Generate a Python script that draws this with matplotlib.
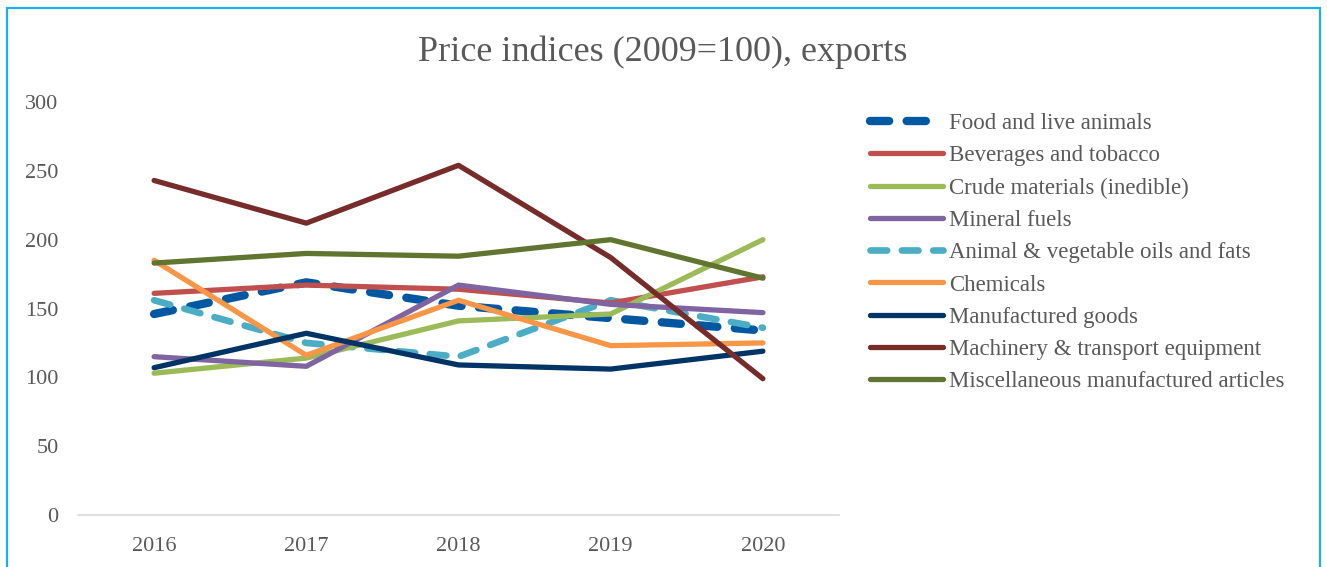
import matplotlib
matplotlib.use("Agg")
import matplotlib.pyplot as plt
from matplotlib.patches import Rectangle

years = ["2016", "2017", "2018", "2019", "2020"]
food = [146, 169, 152, 143, 134]
beverages = [161, 167, 164, 154, 173]
crude = [103, 114, 141, 146, 200]
mineral = [115, 108, 167, 153, 147]
oils = [156, 125, 115, 156, 136]
chemicals = [185, 116, 156, 123, 125]
manufactured = [107, 132, 109, 106, 119]
machinery = [243, 212, 254, 187, 99]
misc = [183, 190, 188, 200, 172]

labels = ["Food and live animals", "Beverages and tobacco", "Crude materials (inedible)",
          "Mineral fuels", "Animal & vegetable oils and fats", "Chemicals",
          "Manufactured goods", "Machinery & transport equipment",
          "Miscellaneous manufactured articles"]
series = [food, beverages, crude, mineral, oils, chemicals, manufactured, machinery, misc]
colors = ["#0058A3", "#C0504D", "#9BBB59", "#8064A2", "#4BACC6", "#F79646",
          "#003366", "#772C2A", "#5F7530"]

plt.rcParams['font.family'] = ['Liberation Serif', 'DejaVu Serif']
text_color = "#595959"

fig = plt.figure(figsize=(13.27, 5.67), dpi=100)
W, H = 1327, 567
ax = fig.add_axes([78 / W, 52 / H, (839 - 78) / W, (515 - 102) / H])

x = list(range(len(years)))
handles = []
for i in range(len(series)):
    kw = dict(color=colors[i], solid_capstyle='round', dash_capstyle='round',
              solid_joinstyle='round', label=labels[i])
    if i == 0:
        ln, = ax.plot(x, series[i], lw=6.0, dashes=(2.3, 2.1), zorder=2, **kw)
    elif i == 4:
        ln, = ax.plot(x, series[i], lw=4.8, dashes=(2.5, 2.2), zorder=2.5, **kw)
    else:
        ln, = ax.plot(x, series[i], lw=3.8, zorder=3, **kw)
    handles.append(ln)

ax.set_xlim(-0.5, 4.5)
ax.set_ylim(0, 300)
ax.set_xticks(x)
ax.set_xticklabels(years)
ax.set_yticks([0, 50, 100, 150, 200, 250, 300])
for s in ["top", "right", "left"]:
    ax.spines[s].set_visible(False)
ax.spines["bottom"].set_color("#D9D9D9")
ax.spines["bottom"].set_linewidth(1.2)
ax.tick_params(axis='both', length=0, labelsize=16, colors=text_color)
ax.tick_params(axis='x', pad=16)
ax.tick_params(axis='y', pad=14)

fig.text(663 / W, 1 - 52 / H, "Price indices (2009=100), exports", ha='center', va='center',
         fontsize=26, color=text_color)

leg = fig.legend(handles=handles, labels=labels, loc='upper left',
                 bbox_to_anchor=(870 / W, 1 - 113 / H), frameon=False,
                 fontsize=16.5, handlelength=3.2, handletextpad=0.25,
                 labelspacing=0.49, borderaxespad=0, borderpad=0)
for t in leg.get_texts():
    t.set_color(text_color)

fig.patches.append(Rectangle((7 / W, -0.05), (1320 - 7) / W, 1 - 8 / H + 0.05,
                             transform=fig.transFigure, fill=False,
                             edgecolor="#1AB0E8", linewidth=1.6, zorder=10))

fig.savefig("out.png", dpi=100)
